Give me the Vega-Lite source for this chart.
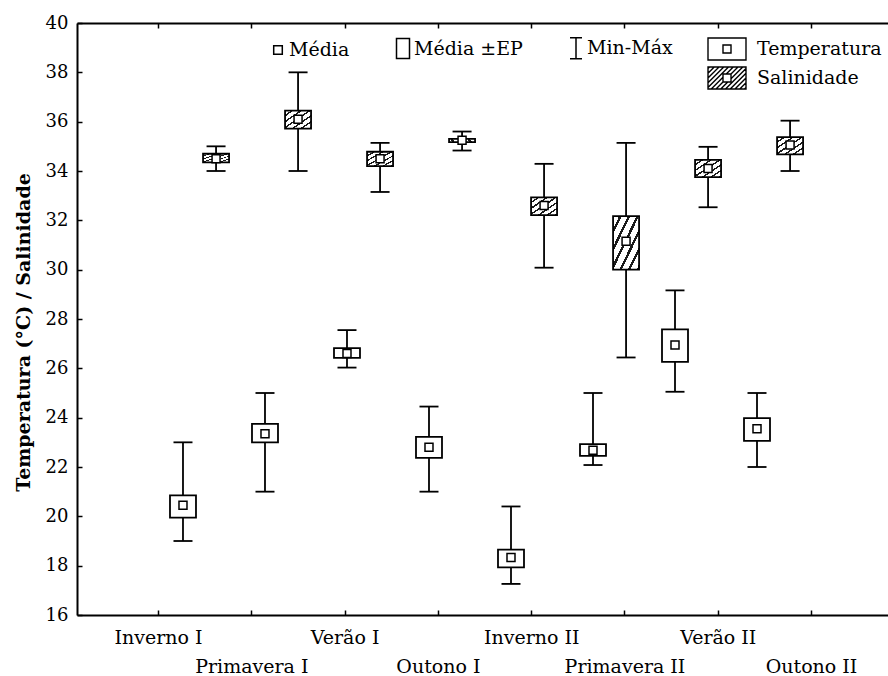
{
  "$schema": "https://vega.github.io/schema/vega-lite/v6.json",
  "width": 811,
  "height": 592,
  "autosize": {"type": "none"},
  "padding": {"left": 77, "top": 23, "right": 0, "bottom": 61},
  "background": "white",
  "config": {
    "view": {"stroke": null},
    "font": "DejaVu Serif",
    "axis": {"labelFont": "DejaVu Serif", "titleFont": "DejaVu Serif", "labelColor": "black", "titleColor": "black", "domainColor": "black", "tickColor": "black", "grid": false},
    "legend": {"labelFont": "DejaVu Serif", "labelColor": "black"}
  },
  "datasets": {
    "stats": [
      {"season": "Inverno I", "param": "Temperatura", "mean": 20.45, "ep_lo": 19.95, "ep_hi": 20.85, "min": 19.0, "max": 23.0},
      {"season": "Inverno I", "param": "Salinidade", "mean": 34.5, "ep_lo": 34.35, "ep_hi": 34.7, "min": 34.0, "max": 35.0},
      {"season": "Primavera I", "param": "Temperatura", "mean": 23.35, "ep_lo": 23.0, "ep_hi": 23.75, "min": 21.0, "max": 25.0},
      {"season": "Primavera I", "param": "Salinidade", "mean": 36.1, "ep_lo": 35.72, "ep_hi": 36.45, "min": 34.0, "max": 38.0},
      {"season": "Verão I", "param": "Temperatura", "mean": 26.6, "ep_lo": 26.42, "ep_hi": 26.82, "min": 26.03, "max": 27.55},
      {"season": "Verão I", "param": "Salinidade", "mean": 34.5, "ep_lo": 34.2, "ep_hi": 34.78, "min": 33.15, "max": 35.14},
      {"season": "Outono I", "param": "Temperatura", "mean": 22.8, "ep_lo": 22.37, "ep_hi": 23.22, "min": 21.0, "max": 24.45},
      {"season": "Outono I", "param": "Salinidade", "mean": 35.25, "ep_lo": 35.17, "ep_hi": 35.3, "min": 34.83, "max": 35.6},
      {"season": "Inverno II", "param": "Temperatura", "mean": 18.33, "ep_lo": 17.93, "ep_hi": 18.65, "min": 17.26, "max": 20.4},
      {"season": "Inverno II", "param": "Salinidade", "mean": 32.6, "ep_lo": 32.21, "ep_hi": 32.93, "min": 30.08, "max": 34.29},
      {"season": "Primavera II", "param": "Temperatura", "mean": 22.68, "ep_lo": 22.45, "ep_hi": 22.93, "min": 22.08, "max": 25.0},
      {"season": "Primavera II", "param": "Salinidade", "mean": 31.15, "ep_lo": 30.0, "ep_hi": 32.17, "min": 26.44, "max": 35.14},
      {"season": "Verão II", "param": "Temperatura", "mean": 26.95, "ep_lo": 26.26, "ep_hi": 27.58, "min": 25.05, "max": 29.16},
      {"season": "Verão II", "param": "Salinidade", "mean": 34.1, "ep_lo": 33.75, "ep_hi": 34.45, "min": 32.53, "max": 34.98},
      {"season": "Outono II", "param": "Temperatura", "mean": 23.55, "ep_lo": 23.06, "ep_hi": 23.98, "min": 22.0, "max": 25.0},
      {"season": "Outono II", "param": "Salinidade", "mean": 35.05, "ep_lo": 34.67, "ep_hi": 35.37, "min": 34.0, "max": 36.04}
    ],
    "seasons": [
      {"season": "Inverno I"}, {"season": "Primavera I"}, {"season": "Verão I"}, {"season": "Outono I"},
      {"season": "Inverno II"}, {"season": "Primavera II"}, {"season": "Verão II"}, {"season": "Outono II"}
    ],
    "legend_items": [
      {"item": "Média"}, {"item": "Média ±EP"}, {"item": "Min-Máx"}
    ]
  },
  "data": {"name": "stats"},
  "layer": [
    {
      "data": {"name": "seasons"},
      "layer": [
        {
          "mark": {"type": "point", "opacity": 0},
          "encoding": {
            "x": {
              "field": "season", "type": "nominal", "sort": null,
              "scale": {"type": "point", "padding": 0.847, "align": 0.513},
              "axis": {
                "orient": "bottom", "title": null, "labelAngle": 0,
                "domainWidth": 2, "tickSize": -5, "tickWidth": 1.5,
                "labelFontSize": 19, "labelPadding": 18, "labelOverlap": false, "labelBound": false,
                "labelExpr": "indexof(['Primavera I','Outono I','Primavera II','Outono II'], datum.label) >= 0 ? '' : datum.label"
              }
            }
          }
        },
        {
          "mark": {"type": "point", "opacity": 0},
          "encoding": {
            "x": {
              "field": "season", "type": "nominal", "sort": null,
              "axis": {
                "orient": "bottom", "title": null, "labelAngle": 0, "domain": false,
                "tickSize": -5, "tickColor": "transparent",
                "labelFontSize": 19, "labelPadding": 47, "labelOverlap": false, "labelBound": false,
                "labelExpr": "indexof(['Primavera I','Outono I','Primavera II','Outono II'], datum.label) >= 0 ? datum.label : ''"
              }
            }
          }
        },
        {
          "mark": {"type": "point", "opacity": 0},
          "encoding": {
            "x": {
              "field": "season", "type": "nominal", "sort": null,
              "axis": {"orient": "top", "title": null, "labels": false, "domainWidth": 2, "tickSize": -5, "tickWidth": 1.5}
            }
          }
        }
      ],
      "resolve": {"axis": {"x": "independent"}}
    },
    {
      "encoding": {
        "x": {
          "field": "season", "type": "nominal",
          "scale": {"type": "band", "domain": ["Inverno I", "Primavera I", "Verão I", "Outono I", "Inverno II", "Primavera II", "Verão II", "Outono II"], "paddingInner": 0, "paddingOuter": 0.945, "align": 0.526},
          "axis": null
        },
        "xOffset": {
          "field": "param", "type": "nominal",
          "scale": {"domain": ["Temperatura", "Salinidade"], "paddingInner": 0, "paddingOuter": 0.24}
        }
      },
      "layer": [
        {
          "mark": {"type": "rule", "color": "black", "strokeWidth": 1.8},
          "encoding": {
            "y": {
              "field": "min", "type": "quantitative",
              "scale": {"domain": [16, 40], "nice": false, "zero": false},
              "axis": {
                "title": "Temperatura (°C) / Salinidade", "titleFontWeight": "bold", "titleFontSize": 19,
                "titleX": -54, "titleY": 309, "titleBaseline": "middle", "titleAlign": "center", "titleAngle": -90,
                "values": [16, 18, 20, 22, 24, 26, 28, 30, 32, 34, 36, 38, 40],
                "labelFontSize": 18, "labelPadding": 14, "tickSize": -5, "tickWidth": 1.5, "domainWidth": 2
              }
            },
            "y2": {"field": "max"}
          }
        },
        {
          "mark": {"type": "tick", "color": "black", "opacity": 1, "thickness": 1.8, "size": 19, "orient": "horizontal"},
          "encoding": {"y": {"field": "min", "type": "quantitative", "title": "Temperatura (°C) / Salinidade"}}
        },
        {
          "mark": {"type": "tick", "color": "black", "opacity": 1, "thickness": 1.8, "size": 19, "orient": "horizontal"},
          "encoding": {"y": {"field": "max", "type": "quantitative", "title": "Temperatura (°C) / Salinidade"}}
        },
        {
          "transform": [{"filter": "datum.param === 'Temperatura'"}],
          "mark": {"type": "bar", "width": 26, "fill": "white", "stroke": "black", "strokeWidth": 1.8},
          "encoding": {"y": {"field": "ep_lo", "type": "quantitative", "title": "Temperatura (°C) / Salinidade"}, "y2": {"field": "ep_hi"}}
        },
        {
          "transform": [{"filter": "datum.param === 'Salinidade'"}],
          "mark": {
            "type": "bar", "width": 26, "stroke": "black", "strokeWidth": 1.8,
            "fill": {
              "gradient": "linear", "x1": 0, "y1": 0, "x2": 1, "y2": 1,
              "stops": [
                {"offset": 0, "color": "white"}, {"offset": 0.1167, "color": "white"}, {"offset": 0.1167, "color": "#1a1a1a"}, {"offset": 0.1667, "color": "#1a1a1a"},
                {"offset": 0.1667, "color": "white"}, {"offset": 0.2833, "color": "white"}, {"offset": 0.2833, "color": "#1a1a1a"}, {"offset": 0.3333, "color": "#1a1a1a"},
                {"offset": 0.3333, "color": "white"}, {"offset": 0.45, "color": "white"}, {"offset": 0.45, "color": "#1a1a1a"}, {"offset": 0.5, "color": "#1a1a1a"},
                {"offset": 0.5, "color": "white"}, {"offset": 0.6167, "color": "white"}, {"offset": 0.6167, "color": "#1a1a1a"}, {"offset": 0.6667, "color": "#1a1a1a"},
                {"offset": 0.6667, "color": "white"}, {"offset": 0.7833, "color": "white"}, {"offset": 0.7833, "color": "#1a1a1a"}, {"offset": 0.8333, "color": "#1a1a1a"},
                {"offset": 0.8333, "color": "white"}, {"offset": 0.95, "color": "white"}, {"offset": 0.95, "color": "#1a1a1a"}, {"offset": 1, "color": "#1a1a1a"}
              ]
            }
          },
          "encoding": {"y": {"field": "ep_lo", "type": "quantitative", "title": "Temperatura (°C) / Salinidade"}, "y2": {"field": "ep_hi"}}
        },
        {
          "mark": {"type": "point", "shape": "square", "size": 64, "filled": true, "fill": "white", "stroke": "black", "strokeWidth": 1.5, "opacity": 1},
          "encoding": {"y": {"field": "mean", "type": "quantitative", "title": "Temperatura (°C) / Salinidade"}}
        }
      ]
    },
    {
      "data": {"name": "legend_items"},
      "mark": {"type": "point", "opacity": 0},
      "encoding": {
        "shape": {
          "field": "item", "type": "nominal", "sort": null,
          "scale": {
            "domain": ["Média", "Média ±EP", "Min-Máx"],
            "range": ["M-0.43,-0.43H0.43V0.43H-0.43Z", "M-0.65,-1H0.65V1H-0.65Z", "M-0.6,-1.05H0.6M0,-1.05V1.05M-0.6,1.05H0.6"]
          },
          "legend": {
            "orient": "none", "legendX": 190, "legendY": 14, "direction": "horizontal", "columns": 3,
            "title": null, "symbolSize": 400, "symbolStrokeWidth": 1.5, "symbolStrokeColor": "black", "symbolFillColor": "white", "symbolOpacity": 1,
            "labelFontSize": 19, "labelOffset": 0, "columnPadding": 42, "padding": 0
          }
        }
      }
    },
    {
      "mark": {"type": "point", "opacity": 0},
      "encoding": {
        "shape": {
          "field": "param", "type": "nominal",
          "scale": {
            "domain": ["Temperatura", "Salinidade"],
            "range": [
              "M-1.357,-0.786H1.357V0.786H-1.357Z M-0.286,-0.286H0.286V0.286H-0.286Z",
              "M-1.357,-0.786H1.357V0.786H-1.357Z M-0.286,-0.286H0.286V0.286H-0.286Z M-1.357,-0.679L-1.25,-0.786 M-1.357,-0.339L-0.911,-0.786 M-1.357,0L-0.571,-0.786 M-1.357,0.339L-0.232,-0.786 M-1.357,0.679L0.107,-0.786 M-1.125,0.786L-0.286,-0.054 M-0.054,-0.286L0.446,-0.786 M-0.786,0.786L-0.286,0.286 M0.286,-0.286L0.786,-0.786 M-0.446,0.786L0.054,0.286 M0.286,0.054L1.125,-0.786 M-0.107,0.786L1.357,-0.679 M0.232,0.786L1.357,-0.339 M0.571,0.786L1.357,0 M0.911,0.786L1.357,0.339 M1.25,0.786L1.357,0.679"
            ]
          },
          "legend": {
            "orient": "none", "legendX": 635, "legendY": 11, "direction": "vertical", "title": null,
            "symbolSize": 784, "symbolStrokeWidth": 1.4, "symbolStrokeColor": "black", "symbolFillColor": "white", "symbolOpacity": 1,
            "labelFontSize": 19, "labelOffset": 15, "rowPadding": 0, "padding": 0
          }
        }
      }
    }
  ],
  "resolve": {"scale": {"x": "independent", "shape": "independent"}}
}
